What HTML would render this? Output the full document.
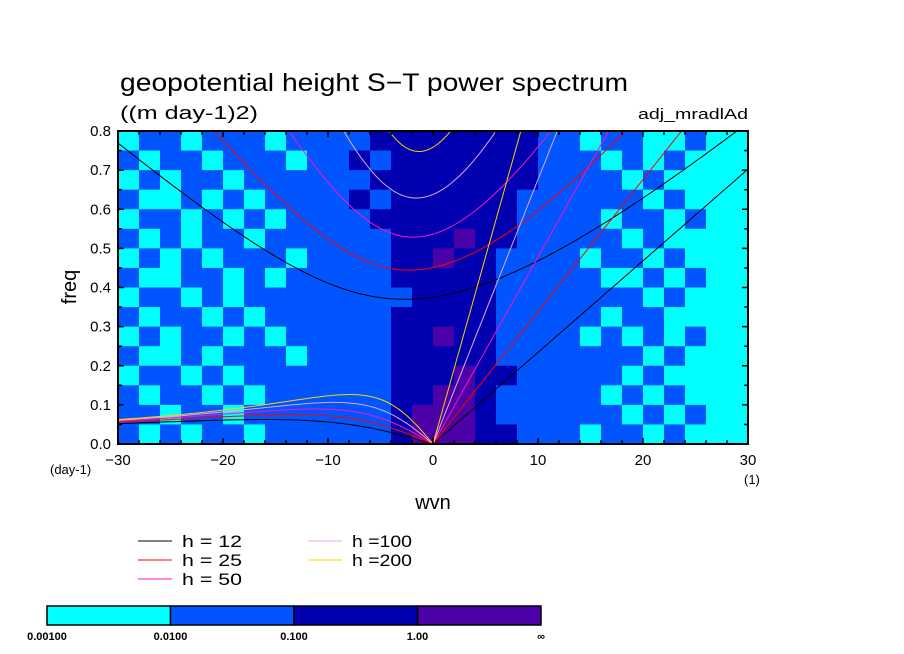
<!DOCTYPE html>
<html><head><meta charset="utf-8"><style>
body{margin:0;background:#fff;}
svg{display:block;font-family:"Liberation Sans",sans-serif;}
</style></head><body>
<svg id="chart" width="904" height="654" viewBox="0 0 904 654">
<defs><clipPath id="pc"><rect x="118" y="131" width="630" height="313"/></clipPath></defs>
<g id="field" clip-path="url(#pc)"></g>
<g id="curves" clip-path="url(#pc)"></g>
<rect x="118" y="131" width="630" height="313" fill="none" stroke="#000" stroke-width="2"/>
<g id="ticks"></g>
<text x="120" y="91" font-size="25" textLength="508" lengthAdjust="spacingAndGlyphs">geopotential height S−T power spectrum</text>
<text x="120" y="119" font-size="18" textLength="138" lengthAdjust="spacingAndGlyphs">((m day-1)2)</text>
<text x="638" y="119" font-size="15" textLength="110" lengthAdjust="spacingAndGlyphs">adj_mradlAd</text>
<text x="76" y="287" font-size="20" text-anchor="middle" transform="rotate(-90 76 287)">freq</text>
<text x="433" y="509" font-size="20" text-anchor="middle">wvn</text>
<text x="50" y="474" font-size="13">(day-1)</text>
<text x="744" y="484" font-size="13">(1)</text>
<g id="legend"></g>
<g id="cbar"></g>
</svg>
<script>
const NS="http://www.w3.org/2000/svg";
const depths=[12,25,50,100,200];
const depthColors=["#000000","#ff0000","#ff10c0","#e0a8e0","#ffd000"];
const xTicks=[-30,-20,-10,0,10,20,30];
const yTicks=[0,0.1,0.2,0.3,0.4,0.5,0.6,0.7,0.8];
const levelColors=["#00ffff","#0055ff","#0000b0","#4c00a8"];
const cbarLabels=["0.00100","0.0100","0.100","1.00","∞"];
const fieldRows=[
"011011101111222222221101100100",
"101101110112122222221110101000",
"010110111111222222221111010000",
"100101011112122222211111101000",
"011010101111222222211110110100",
"101011011111122232211111010000",
"010101110111122322111101101000",
"100110101111122222111110010100",
"011010111111112222111111101000",
"101101011111122222111110110000",
"010110101111122322111101010100",
"100101110111122222111111101000",
"011010111111122232211111010000",
"101101011111122332111110101000",
"110110111111123332111111010100",
"101011011111123332211101101000"];
const X=s=>433+s*10.5, Y=f=>444-f*391.25;
function mk(tag,attrs,parent){const e=document.createElementNS(NS,tag);for(const k in attrs)e.setAttribute(k,attrs[k]);parent.appendChild(e);return e;}
const field=document.getElementById('field');
const nC=fieldRows[0].length,nR=fieldRows.length,dS=60/nC,dF=0.8/nR;
fieldRows.forEach((row,r)=>{for(let c=0;c<nC;c++){
 const s0=-30+c*dS,f1=0.8-r*dF;
 const el=mk('rect',{x:X(s0),y:Y(f1),width:X(s0+dS)-X(s0)+0.5,height:Y(f1-dF)-Y(f1)+0.5,fill:levelColors[+row[c]]},field);
 
 
}});
const beta=2.29e-11,a=6.371e6,g=9.81,cpd=86400/(2*Math.PI);
const curves=document.getElementById('curves');
function pathFrom(pts){return pts.map((p,i)=>(i?'L':'M')+X(p[0]).toFixed(1)+' '+Y(p[1]).toFixed(1)).join(' ');}
depths.forEach((h,i)=>{
 const c=Math.sqrt(g*h);
 const kel=[],ros=[],ig=[];
 for(let s=-30;s<=30.001;s+=0.25){
  const k=s/a;
  if(s>=0)kel.push([s,k*c*cpd]);
  if(s<=0)ros.push([s,(-beta*k/(k*k+3*beta/c))*cpd]);
  let w=Math.sqrt(3*beta*c+k*k*c*c);
  for(let it=0;it<30;it++)w=Math.sqrt(Math.max(1e-20,3*beta*c+k*k*c*c+beta*c*c*k/w));
  ig.push([s,w*cpd]);
 }
 [['kelvin',kel],['rossby',ros],['gravity',ig]].forEach(([nm,pts])=>{
  const p=mk('path',{d:pathFrom(pts),fill:'none',stroke:depthColors[i],'stroke-width':1},curves);
  
  
 });
});
const tk=document.getElementById('ticks');
for(let s=-30;s<=30;s+=2){const L=(s%10===0)?6:4;
 mk('line',{x1:X(s),y1:444,x2:X(s),y2:444-L,stroke:'#000','stroke-width':1.5},tk);
 mk('line',{x1:X(s),y1:131,x2:X(s),y2:131+L,stroke:'#000','stroke-width':1.5},tk);}
for(let f=0;f<=0.801;f+=0.05){const L=(Math.round(f*100)%10===0)?6:4;
 mk('line',{x1:118,y1:Y(f),x2:118+L,y2:Y(f),stroke:'#000','stroke-width':1.5},tk);
 mk('line',{x1:748,y1:Y(f),x2:748-L,y2:Y(f),stroke:'#000','stroke-width':1.5},tk);}
xTicks.forEach(v=>{const t=mk('text',{x:X(v),y:465,'font-size':15,'text-anchor':'middle'},tk);t.textContent=(v<0?'−':'')+Math.abs(v);
 });
yTicks.forEach(v=>{const t=mk('text',{x:111,y:Y(v)+5,'font-size':15,'text-anchor':'end'},tk);t.textContent=v.toFixed(1);
 });
const lg=document.getElementById('legend');
depths.forEach((h,i)=>{
 const col=i<3?0:1,row=i<3?i:i-3;
 const lx=col?308:138,ly=541+row*19;
 const l=mk('line',{x1:lx,y1:ly,x2:lx+34,y2:ly,stroke:depthColors[i],'stroke-width':1},lg);
 
 const t=mk('text',{x:lx+44,y:ly+6,'font-size':17,textLength:60,lengthAdjust:'spacingAndGlyphs'},lg);
 t.textContent=h<100?'h = '+h:'h =' +h;
 
});
const cb=document.getElementById('cbar');
levelColors.forEach((c,i)=>{const r=mk('rect',{x:47+i*123.5,y:606,width:123.5,height:19,fill:c,stroke:'#000','stroke-width':1.5},cb);
 });
cbarLabels.forEach((s,i)=>{const t=mk('text',{x:47+i*123.5,y:640,'font-size':11,'font-weight':'bold','text-anchor':'middle'},cb);t.textContent=s;
 });
</script>
</body></html>
